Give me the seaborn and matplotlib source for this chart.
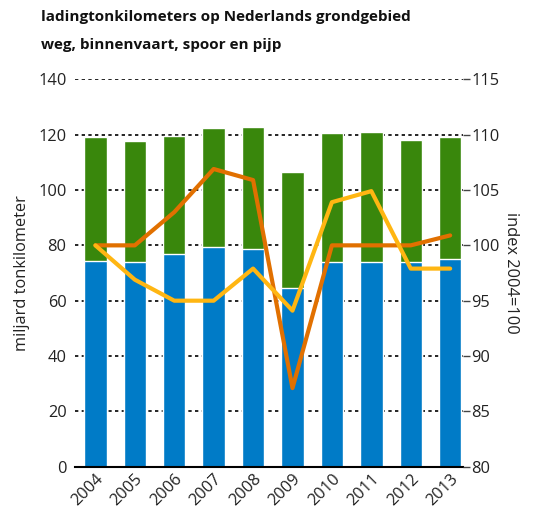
import numpy as np
import pandas as pd
import matplotlib
matplotlib.use("Agg")
import matplotlib.pyplot as plt
import seaborn as sns

# data
years = ["2004", "2005", "2006", "2007", "2008", "2009", "2010", "2011", "2012", "2013"]
totaal = [119.3, 117.7, 119.5, 122.4, 122.8, 106.5, 120.7, 121.1, 118.1, 119.2]   # green top
weg = [74.3, 74.1, 77.0, 79.4, 78.7, 64.6, 74.1, 74.1, 74.1, 75.1]               # blue part
index_oranje = [100, 100, 103, 106.9, 105.9, 87.1, 100, 100, 100, 100.9]
index_geel = [100, 96.9, 95, 95, 97.9, 94.1, 103.9, 104.9, 97.9, 97.9]

blauw = "#007BC7"
groen = "#39870C"
oranje = "#E17000"
geel = "#FFB612"

sns.set_style("white")
plt.rcParams["font.family"] = ["Open Sans", "DejaVu Sans"]
fs = 11.8

df = pd.DataFrame({"jaar": years, "totaal": totaal, "weg": weg,
                   "oranje": index_oranje, "geel": index_geel})
df["pos"] = np.arange(len(df))

fig = plt.figure(figsize=(5.35, 5.12), dpi=100)
ax = fig.add_axes([0.140, 0.0885, 0.725, 0.7565])

# grid first, bars over it
ax.set_ylim(0, 140)
ax.set_yticks(range(0, 141, 20))
ax.yaxis.grid(True, color="black", linestyle=(0, (2, 2)), linewidth=1.2, zorder=0)
ax.set_axisbelow(True)

# stacked bars: total first, road on top of it
sns.barplot(data=df, x="jaar", y="totaal", color=groen, width=0.57,
            saturation=1, ax=ax, zorder=3)
sns.barplot(data=df, x="jaar", y="weg", color=blauw, width=0.57,
            saturation=1, ax=ax, zorder=4)

ax.set_xlim(-0.52, 9.32)
ax.set_ylim(0, 140)
for s in ["top", "right", "left"]:
    ax.spines[s].set_visible(False)
ax.spines["bottom"].set_color("black")
ax.spines["bottom"].set_linewidth(1.5)
ax.spines["bottom"].set_zorder(5)
ax.tick_params(axis="y", length=0, pad=6, labelsize=fs, colors="#222222")
ax.tick_params(axis="x", length=0, pad=3, labelsize=fs, colors="#222222")
plt.setp(ax.get_xticklabels(), rotation=45, ha="right", rotation_mode="anchor")
ax.set_xlabel("")
ax.set_ylabel("miljard tonkilometer", fontsize=fs, labelpad=6, color="#222222")

# index lines on the right axis
ax2 = ax.twinx()
sns.lineplot(data=df, x="pos", y="oranje", color=oranje, linewidth=3, ax=ax2, zorder=4)
sns.lineplot(data=df, x="pos", y="geel", color=geel, linewidth=3, ax=ax2, zorder=5)
ax2.set_ylim(80, 115)
ax2.set_yticks(range(80, 116, 5))
ax2.set_xlim(-0.52, 9.32)
for s in ["top", "left", "bottom", "right"]:
    ax2.spines[s].set_visible(False)
ax2.tick_params(axis="y", length=5, width=1, pad=1, labelsize=fs, labelcolor="#222222",
                color="#444444")
ax2.set_xlabel("")
ax2.set_ylabel("index 2004=100", fontsize=fs, rotation=270, labelpad=14, color="#222222")

fig.text(0.077, 0.966, "ladingtonkilometers op Nederlands grondgebied",
         fontsize=11, fontweight="bold", va="center", color="#111111")
fig.text(0.077, 0.912, "weg, binnenvaart, spoor en pijp",
         fontsize=11, fontweight="bold", va="center", color="#111111")

fig.savefig("out.png", dpi=100)
